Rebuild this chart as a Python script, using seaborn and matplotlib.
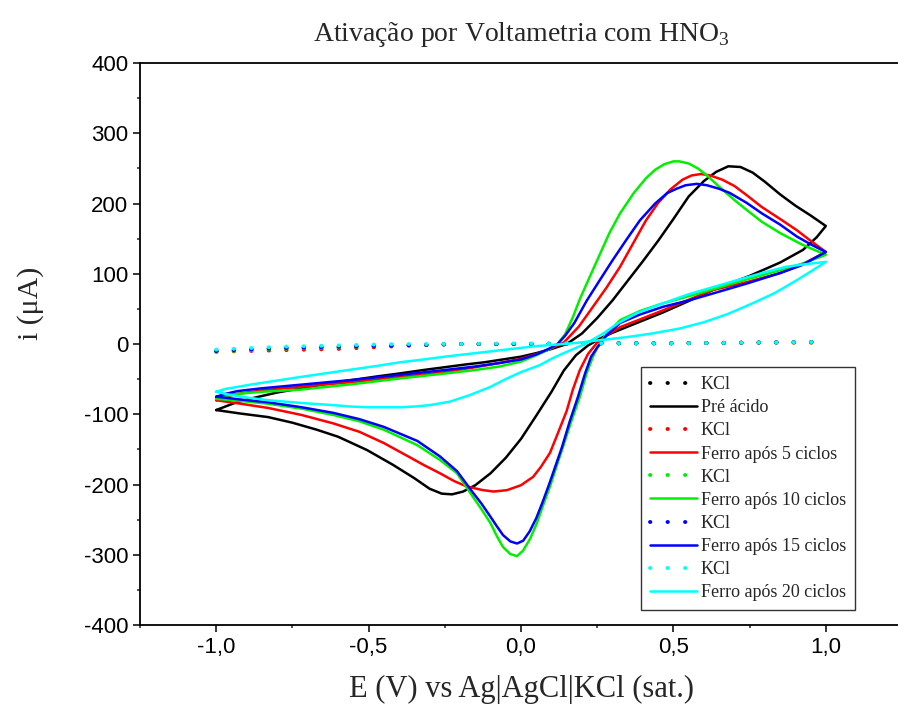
import numpy as np
import pandas as pd
import matplotlib
matplotlib.use("Agg")
import matplotlib.pyplot as plt
import seaborn as sns
from matplotlib.ticker import FuncFormatter, MultipleLocator


# Data (E in V, i in uA)

# Pre acido (black)
black_x_fwd = [-1.0, -0.97, -0.94, -0.88, -0.8, -0.72, -0.63, -0.55, -0.47, -0.4, -0.32, -0.25, -0.18, -0.12, -0.06, 0.0, 0.05, 0.1, 0.15, 0.2, 0.25, 0.30, 0.35, 0.40, 0.45, 0.50, 0.55, 0.60, 0.64, 0.68, 0.72, 0.76, 0.80, 0.85, 0.90, 0.95, 1.0]
black_y_fwd = [-94, -89, -84, -77, -69, -63, -56, -51, -46, -42, -37, -33, -29, -26, -22, -18, -13, -7, 0, 15, 37, 62, 90, 118, 147, 178, 210, 232, 245, 253, 252, 244, 231, 213, 197, 183, 168]
black_x_rev = [1.0, 0.97, 0.925, 0.85, 0.75, 0.63, 0.544, 0.466, 0.38, 0.30, 0.26, 0.22, 0.18, 0.14, 0.10, 0.05, 0.0, -0.05, -0.10, -0.15, -0.19, -0.226, -0.26, -0.30, -0.35, -0.42, -0.505, -0.6, -0.67, -0.75, -0.83, -0.92, -1.0]
black_y_rev = [168, 152, 134, 116, 97, 77, 60, 45, 30, 16, 8, -2, -16, -38, -68, -102, -135, -162, -184, -201, -210, -214, -213, -206, -191, -172, -151, -132, -122, -112, -104, -99, -94]

# Ferro apos 5 ciclos (red)
red_x_fwd = [-1.0, -0.97, -0.93, -0.85, -0.725, -0.55, -0.397, -0.25, -0.15, -0.07, 0.0, 0.06, 0.10, 0.14, 0.19, 0.236, 0.28, 0.325, 0.37, 0.41, 0.45, 0.49, 0.53, 0.56, 0.59, 0.62, 0.66, 0.70, 0.74, 0.79, 0.85, 0.905, 0.95, 1.0]
red_y_fwd = [-80, -75, -71, -66, -61, -54, -47, -40, -33, -27, -21, -13, -6, 2, 25, 53, 80, 110, 145, 176, 201, 220, 234, 240, 242, 240, 234, 225, 212, 195, 178, 162, 147, 131]
red_x_rev = [1.0, 0.93, 0.85, 0.74, 0.63, 0.55, 0.466, 0.39, 0.325, 0.28, 0.25, 0.22, 0.193, 0.17, 0.15, 0.12, 0.095, 0.065, 0.04, 0.0, -0.046, -0.09, -0.125, -0.177, -0.22, -0.266, -0.32, -0.37, -0.45, -0.53, -0.616, -0.72, -0.83, -0.92, -1.0]
red_y_rev = [131, 115, 101, 88, 77, 63, 48, 35, 24, 12, 2, -14, -37, -65, -95, -128, -155, -175, -189, -201, -208, -210, -208, -203, -195, -184, -172, -160, -141, -125, -113, -101, -91, -85, -80]

# Ferro apos 10 ciclos (green)
green_x_fwd = [-1.0, -0.97, -0.93, -0.85, -0.725, -0.55, -0.397, -0.25, -0.15, -0.07, 0.0, 0.05, 0.09, 0.12, 0.145, 0.17, 0.193, 0.23, 0.26, 0.29, 0.325, 0.37, 0.41, 0.44, 0.47, 0.50, 0.52, 0.55, 0.58, 0.61, 0.65, 0.70, 0.74, 0.79, 0.85, 0.92, 1.0]
green_y_fwd = [-78, -74, -71, -68, -65, -57, -49, -42, -37, -32, -25, -16, -8, 0, 14, 38, 64, 100, 129, 158, 186, 215, 236, 248, 256, 260, 260, 257, 250, 240, 224, 205, 191, 174, 158, 142, 127]
green_x_rev = [1.0, 0.92, 0.85, 0.74, 0.63, 0.55, 0.466, 0.39, 0.325, 0.28, 0.25, 0.236, 0.215, 0.193, 0.165, 0.138, 0.115, 0.095, 0.072, 0.052, 0.03, 0.007, -0.013, -0.035, -0.059, -0.08, -0.10, -0.13, -0.157, -0.21, -0.266, -0.34, -0.45, -0.53, -0.616, -0.72, -0.83, -0.92, -1.0]
green_y_rev = [127, 114, 105, 92, 78, 68, 58, 47, 34, 14, -5, -18, -42, -75, -110, -146, -176, -203, -230, -255, -277, -294, -302, -299, -289, -273, -255, -235, -218, -184, -165, -144, -122, -110, -101, -92, -85, -81, -78]

# Ferro apos 15 ciclos (blue)
blue_x_fwd = [-1.0, -0.97, -0.93, -0.85, -0.725, -0.55, -0.397, -0.25, -0.15, -0.07, 0.0, 0.05, 0.09, 0.12, 0.145, 0.175, 0.216, 0.26, 0.30, 0.345, 0.39, 0.44, 0.48, 0.51, 0.54, 0.577, 0.61, 0.65, 0.685, 0.74, 0.79, 0.85, 0.905, 0.95, 1.0]
blue_y_fwd = [-75, -71, -67, -63, -58, -51, -44, -37, -32, -27, -22, -15, -7, 0, 12, 30, 62, 92, 119, 148, 176, 200, 215, 221, 226, 228, 226, 221, 215, 201, 186, 170, 153, 142, 131]
blue_x_rev = [1.0, 0.92, 0.85, 0.74, 0.63, 0.55, 0.466, 0.39, 0.325, 0.28, 0.25, 0.23, 0.21, 0.187, 0.16, 0.135, 0.112, 0.092, 0.07, 0.05, 0.028, 0.007, -0.013, -0.035, -0.059, -0.08, -0.10, -0.13, -0.157, -0.21, -0.266, -0.34, -0.45, -0.53, -0.616, -0.72, -0.83, -0.92, -1.0]
blue_y_rev = [131, 112, 101, 86, 72, 62, 53, 42, 30, 12, -5, -18, -42, -75, -110, -146, -175, -200, -226, -248, -267, -280, -284, -281, -272, -259, -246, -227, -212, -181, -160, -138, -118, -107, -98, -90, -83, -79, -75]

# Ferro apos 20 ciclos (cyan)
cyan_x_fwd = [-1.0, -0.97, -0.93, -0.89, -0.8, -0.725, -0.63, -0.55, -0.47, -0.397, -0.32, -0.25, -0.17, -0.07, 0.05, 0.14, 0.19, 0.27, 0.35, 0.43, 0.52, 0.60, 0.68, 0.76, 0.83, 0.89, 0.95, 1.0]
cyan_y_fwd = [-68, -64, -61, -58, -52, -47, -41, -36, -31, -26, -22, -18, -14, -9, -3, 0, 2, 6, 10, 15, 22, 31, 43, 58, 72, 87, 103, 117]
cyan_x_rev = [1.0, 0.94, 0.87, 0.79, 0.71, 0.63, 0.544, 0.46, 0.38, 0.32, 0.27, 0.21, 0.14, 0.10, 0.062, 0.0, -0.05, -0.10, -0.17, -0.233, -0.3, -0.35, -0.397, -0.45, -0.5, -0.56, -0.616, -0.72, -0.83, -0.92, -0.97, -1.0]
cyan_y_rev = [117, 114, 110, 101, 91, 81, 70, 57, 44, 30, 15, 0, -13, -21, -30, -40, -50, -61, -73, -82, -87, -89, -90, -90, -90, -89, -87, -84, -80, -75, -71, -68]

# KCl blanks (dotted)
kcl_x = [-1.0, -0.9, -0.8, -0.7, -0.6, -0.5, -0.4, -0.3, -0.2, 0.0, 0.25, 0.5, 0.75, 1.0]
kcl_black = [-10, -8, -6, -5, -4, -3, -2, -1, 0, 0, 1, 1, 2, 3]
kcl_red = [-11, -10, -9, -8, -7, -5, -3, -1, 0, 0, 1, 1, 2, 2]
kcl_green = [-11, -9, -7, -6, -5, -3, -2, -1, 0, 0, 1, 1, 2, 2]
kcl_blue = [-10, -8, -6, -5, -4, -3, -2, -1, 0, 0, 1, 1, 2, 3]
kcl_cyan = [-8, -6, -4, -3, -2, -1, 0, 0, 0, 1, 1, 1, 2, 3]

labels = ["Pré ácido", "Ferro após 5 ciclos", "Ferro após 10 ciclos", "Ferro após 15 ciclos", "Ferro após 20 ciclos"]
colors = ["#000000", "#ff0000", "#00f000", "#0000ff", "#00ffff"]


# Style

sns.set_theme(style="ticks")
plt.rcParams["font.family"] = ["Liberation Sans", "DejaVu Sans"]
plt.rcParams["mathtext.fontset"] = "custom"
plt.rcParams["mathtext.rm"] = "Liberation Serif"
serif = ["Liberation Serif", "DejaVu Serif"]

fig = plt.figure(figsize=(8.98, 7.17), dpi=100)
ax = fig.add_axes([0.1559, 0.1283, 0.8486, 0.7838])


# Plot curves

cv_sets = [
    (black_x_fwd + black_x_rev, black_y_fwd + black_y_rev, kcl_black),
    (red_x_fwd + red_x_rev, red_y_fwd + red_y_rev, kcl_red),
    (green_x_fwd + green_x_rev, green_y_fwd + green_y_rev, kcl_green),
    (blue_x_fwd + blue_x_rev, blue_y_fwd + blue_y_rev, kcl_blue),
    (cyan_x_fwd + cyan_x_rev, cyan_y_fwd + cyan_y_rev, kcl_cyan),
]

for (cx, cy, kcl), lab, col in zip(cv_sets, labels, colors):
    kdf = pd.DataFrame({"E": kcl_x, "i": kcl})
    sns.lineplot(data=kdf, x="E", y="i", ax=ax, sort=False, estimator=None,
                 color=col, lw=2.8, linestyle=(0, (0.1, 4.4)),
                 dash_capstyle="round", label="KCl")
    df = pd.DataFrame({"E": cx, "i": cy})
    sns.lineplot(data=df, x="E", y="i", ax=ax, sort=False, estimator=None,
                 color=col, lw=1.8, label=lab)


# Axes

ax.set_xlim(-1.25, 1.25)
ax.set_ylim(-400, 400)
ax.xaxis.set_major_locator(MultipleLocator(0.5))
ax.xaxis.set_minor_locator(MultipleLocator(0.25))
ax.yaxis.set_major_locator(MultipleLocator(100))
ax.yaxis.set_minor_locator(MultipleLocator(50))
ax.xaxis.set_major_formatter(FuncFormatter(lambda v, p: f"{v:.1f}".replace(".", ",")))
ax.yaxis.set_major_formatter(FuncFormatter(lambda v, p: f"{v:.0f}"))
ax.tick_params(which="major", direction="out", length=5, width=1.1, labelsize=16, colors="black")
ax.tick_params(which="minor", direction="out", length=2.5, width=1.1)
for s in ax.spines.values():
    s.set_linewidth(1.3)
    s.set_color("black")

ax.set_xlabel("E (V) vs Ag|AgCl|KCl (sat.)", family=serif, fontsize=22, labelpad=12)
ax.set_ylabel("i (μA)", family=serif, fontsize=21.5)
ax.yaxis.set_label_coords(-0.126, 0.573)
ax.set_title("Ativação por Voltametria com HNO$_3$", family=serif, fontsize=20, pad=16)

leg = ax.legend(loc="lower right", bbox_to_anchor=(0.938, 0.026), prop={"family": serif, "size": 13},
                frameon=True, fancybox=False, edgecolor="black", handlelength=2.6,
                labelspacing=0.34, borderpad=0.5, handletextpad=0.2, borderaxespad=0)
leg.get_frame().set_linewidth(1.0)

fig.savefig("out.png", dpi=100)
